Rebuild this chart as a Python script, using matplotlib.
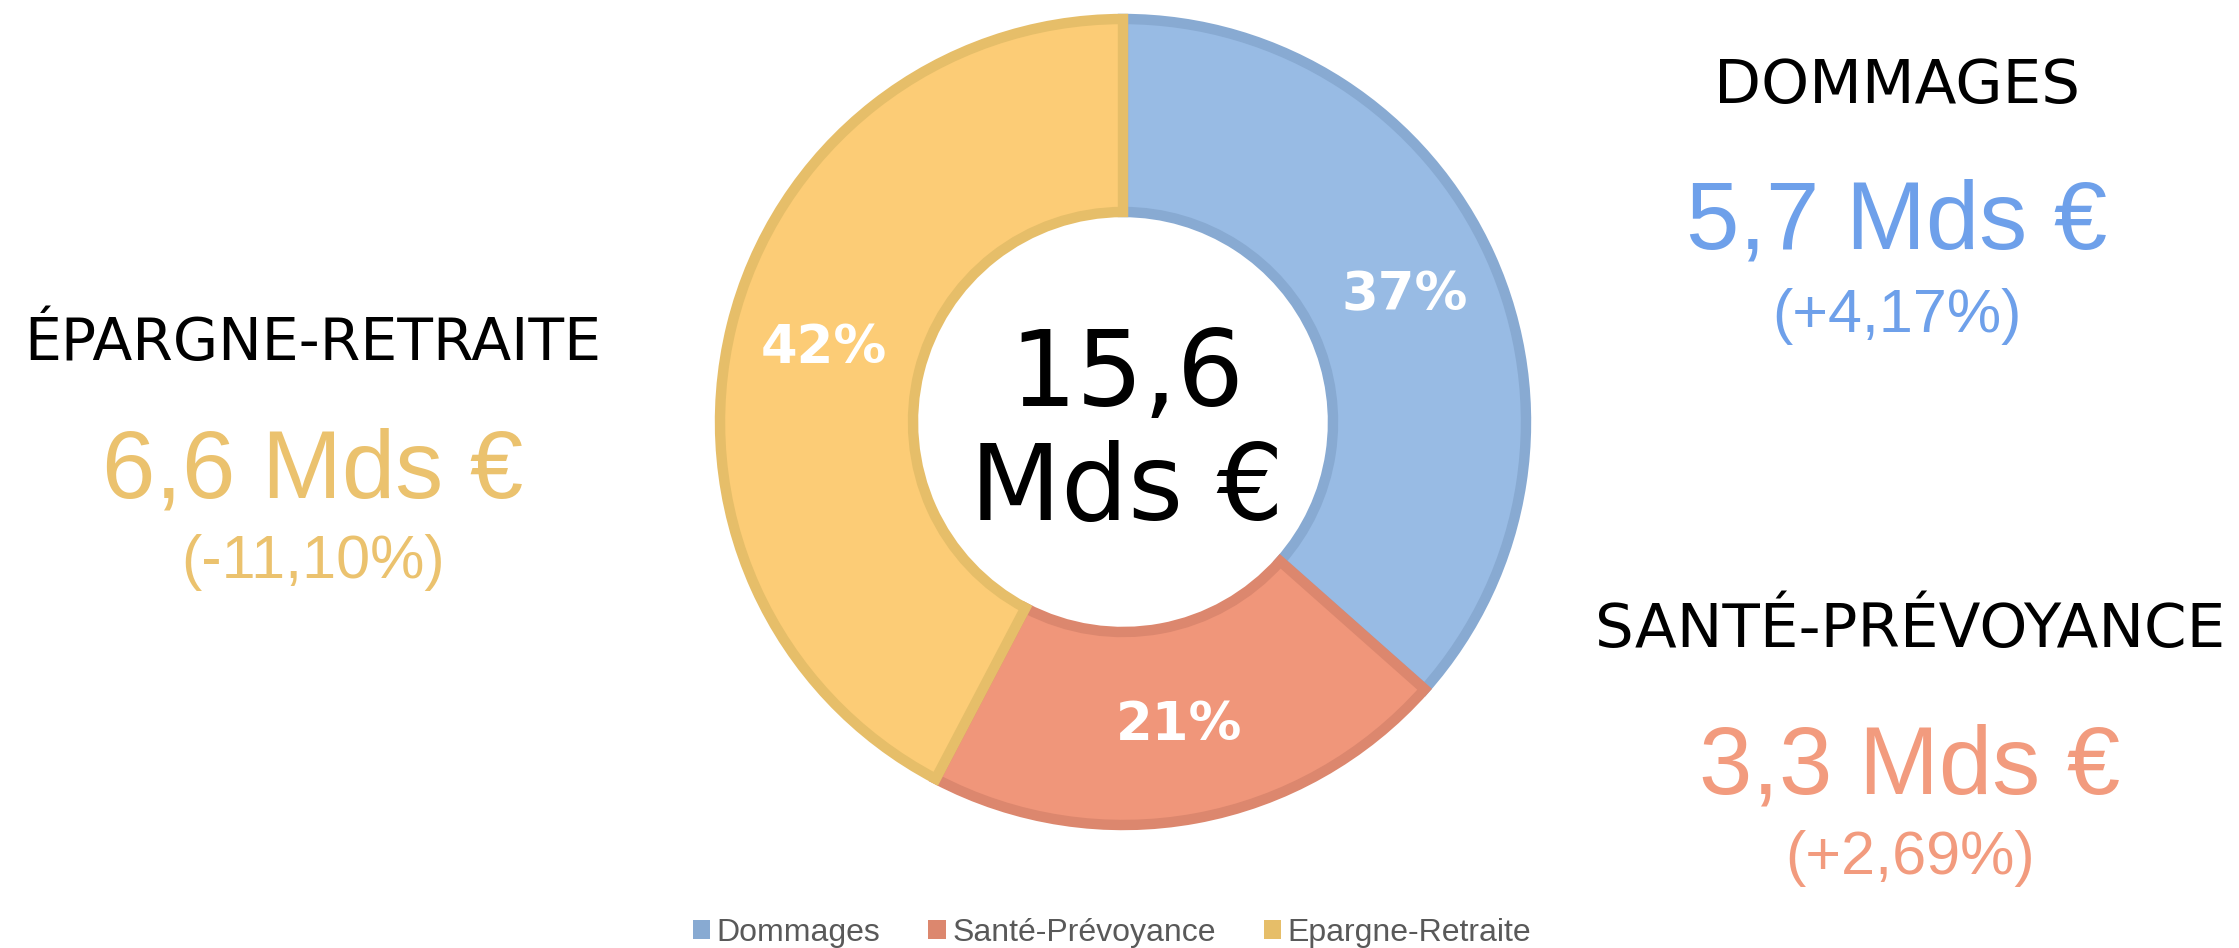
import math

import matplotlib
matplotlib.use("Agg")
import matplotlib.pyplot as plt
from matplotlib.patches import Patch

# data
segments = ["Dommages", "Santé-Prévoyance", "Epargne-Retraite"]
amounts = [5.7, 3.3, 6.6]  # Mds €
pct_labels = ["37%", "21%", "42%"]
titles = ["DOMMAGES", "SANTÉ-PRÉVOYANCE", "ÉPARGNE-RETRAITE"]
amount_labels = ["5,7 Mds €", "3,3 Mds €", "6,6 Mds €"]
change_labels = ["(+4,17%)", "(+2,69%)", "(-11,10%)"]
total_label = "15,6\nMds €"

fill_colors = ["#98BBE4", "#F0967A", "#FCCC76"]
edge_colors = ["#88AAD2", "#DC876E", "#E6BE69"]
text_colors = ["#6EA0EA", "#F29B7E", "#EBC26E"]

W, H = 2239, 948
fig = plt.figure(figsize=(W / 100, H / 100), dpi=100)
ax = fig.add_axes([0, 0, 1, 1])

cx, cy = 1123, H - 422
radius = 403
ring = 193
wedges, _ = ax.pie(
    amounts,
    center=(cx, cy),
    radius=radius,
    startangle=90,
    counterclock=False,
    colors=fill_colors,
    wedgeprops=dict(width=ring, linewidth=7.5),
)
for w, ec in zip(wedges, edge_colors):
    w.set_edgecolor(ec)

# percentage labels in the middle of the ring
total = sum(amounts)
start = 90.0
r = radius - ring / 2 + 2
for amt, lab in zip(amounts, pct_labels):
    span = 360.0 * amt / total
    ang = math.radians(start - span / 2)
    ax.text(cx + r * math.cos(ang), cy + r * math.sin(ang), lab,
            ha="center", va="center", color="white", fontsize=38,
            fontweight="bold", family="DejaVu Sans")
    start -= span

ax.text(cx + 4, cy - 12, total_label, ha="center", va="center",
        fontsize=76, family="DejaVu Sans", linespacing=1.15, color="black")

# side blocks: (x center, title baseline, amount baseline, change baseline)
blocks = [
    (1897, H - 103, H - 248, H - 332),
    (1910, H - 647, H - 793, H - 874),
    (313, H - 360, H - 497, H - 578),
]
title_sizes = [44, 44, 42]
for (x, yt, ya, yc), t, a, c, col, ts in zip(blocks, titles, amount_labels,
                                             change_labels, text_colors,
                                             title_sizes):
    ax.text(x, yt, t, ha="center", va="baseline", fontsize=ts,
            family="DejaVu Sans", color="black")
    ax.text(x, ya, a, ha="center", va="baseline", fontsize=69,
            family="Liberation Sans", color=col)
    ax.text(x, yc, c, ha="center", va="baseline", fontsize=44,
            family="Liberation Sans", color=col)

ax.set_xlim(0, W)
ax.set_ylim(0, H)
ax.set_aspect("equal")
ax.axis("off")

handles = [Patch(facecolor=c, edgecolor="none") for c in edge_colors]
fig.legend(handles, segments, loc="lower center",
           bbox_to_anchor=(1112 / W, -0.03), ncol=3, frameon=False,
           prop={"family": "Liberation Sans", "size": 23},
           labelcolor="#595959", handlelength=0.55, handleheight=0.55,
           handletextpad=0.2, columnspacing=1.5)

fig.savefig("out.png", dpi=100, facecolor="white")
